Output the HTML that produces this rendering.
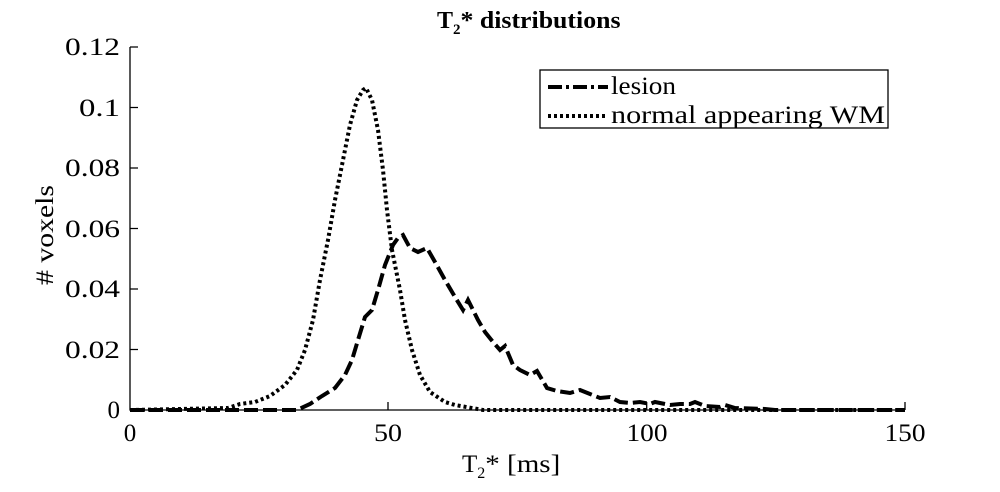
<!DOCTYPE html><html><head><style>body{margin:0;background:#fff}svg{display:block}text{font-family:"Liberation Serif",serif;fill:#000}</style></head><body>
<svg width="1000" height="492" viewBox="0 0 1000 492">
<text x="437" y="28" font-size="24" font-weight="bold">T<tspan font-size="15" dy="6">2</tspan><tspan dy="-6" textLength="160" lengthAdjust="spacingAndGlyphs">* distributions</tspan></text>
<g stroke="#000" stroke-width="1.3" fill="none">
<path d="M130,47V410H905"/>
<path d="M130,47h8M130,107.5h8M130,168h8M130,228.5h8M130,289h8M130,349.5h8M388,410v-8M646.7,410v-8M905,410v-8"/>
</g>
<g font-size="25" text-anchor="end">
<text x="120" y="55" textLength="55" lengthAdjust="spacingAndGlyphs">0.12</text><text x="120" y="116" textLength="41" lengthAdjust="spacingAndGlyphs">0.1</text><text x="120" y="176" textLength="55" lengthAdjust="spacingAndGlyphs">0.08</text><text x="120" y="237" textLength="55" lengthAdjust="spacingAndGlyphs">0.06</text><text x="120" y="297" textLength="55" lengthAdjust="spacingAndGlyphs">0.04</text><text x="120" y="358" textLength="55" lengthAdjust="spacingAndGlyphs">0.02</text><text x="120" y="418">0</text>
</g>
<g font-size="25" text-anchor="middle">
<text x="130" y="441">0</text><text x="388" y="441" textLength="28" lengthAdjust="spacingAndGlyphs">50</text><text x="647" y="441" textLength="41" lengthAdjust="spacingAndGlyphs">100</text><text x="905" y="441" textLength="41" lengthAdjust="spacingAndGlyphs">150</text>
</g>
<text x="462" y="472" font-size="25">T<tspan font-size="16" dy="6">2</tspan><tspan dy="-6" textLength="75" lengthAdjust="spacingAndGlyphs">* [ms]</tspan></text>
<text transform="translate(53,235) rotate(-90)" font-size="25" text-anchor="middle" textLength="100" lengthAdjust="spacingAndGlyphs"># voxels</text>
<polyline fill="none" stroke="#000" stroke-width="4" stroke-dasharray="3,3" points="130,410 228,408 240,404 255,402 270,396 285,385 297,370 305,350 313,320 320,280 328,240 335,200 343,160 350,125 357,100 363,90 366,88 372,100 378,130 383,170 387,210 392,250 396,270 400,290 405,320 412,350 420,375 430,392 445,402 455,405 483,410 905,410"/>
<polyline fill="none" stroke="#000" stroke-width="4" stroke-dasharray="14,5" points="130,410 297,410 310,404 322,396 335,388 345,375 352,360 358,340 365,317 372,310 378,290 385,265 393,245 398,238 403,235 410,248 418,252 427,248 435,262 445,280 455,297 463,310 468,300 478,320 485,332 493,342 500,350 505,346 513,365 520,370 530,375 537,371 547,388 557,391 570,393 580,390 590,394 600,398 610,397 620,402 630,403 640,402 650,404 655,402 665,404 670,405 680,404 690,404 695,402 705,406 720,407 725,405 735,408 765,409 775,410 905,410"/>
<rect x="540" y="70" width="348" height="58" fill="#fff" stroke="#000" stroke-width="1.3"/>
<line x1="548" y1="87" x2="608" y2="87" stroke="#000" stroke-width="4" stroke-dasharray="14,4,3,4"/>
<line x1="548" y1="116" x2="608" y2="116" stroke="#000" stroke-width="4" stroke-dasharray="3,3"/>
<g font-size="25"><text x="611" y="94" textLength="65" lengthAdjust="spacingAndGlyphs">lesion</text><text x="611" y="123" textLength="274" lengthAdjust="spacingAndGlyphs">normal appearing WM</text></g>
</svg></body></html>
